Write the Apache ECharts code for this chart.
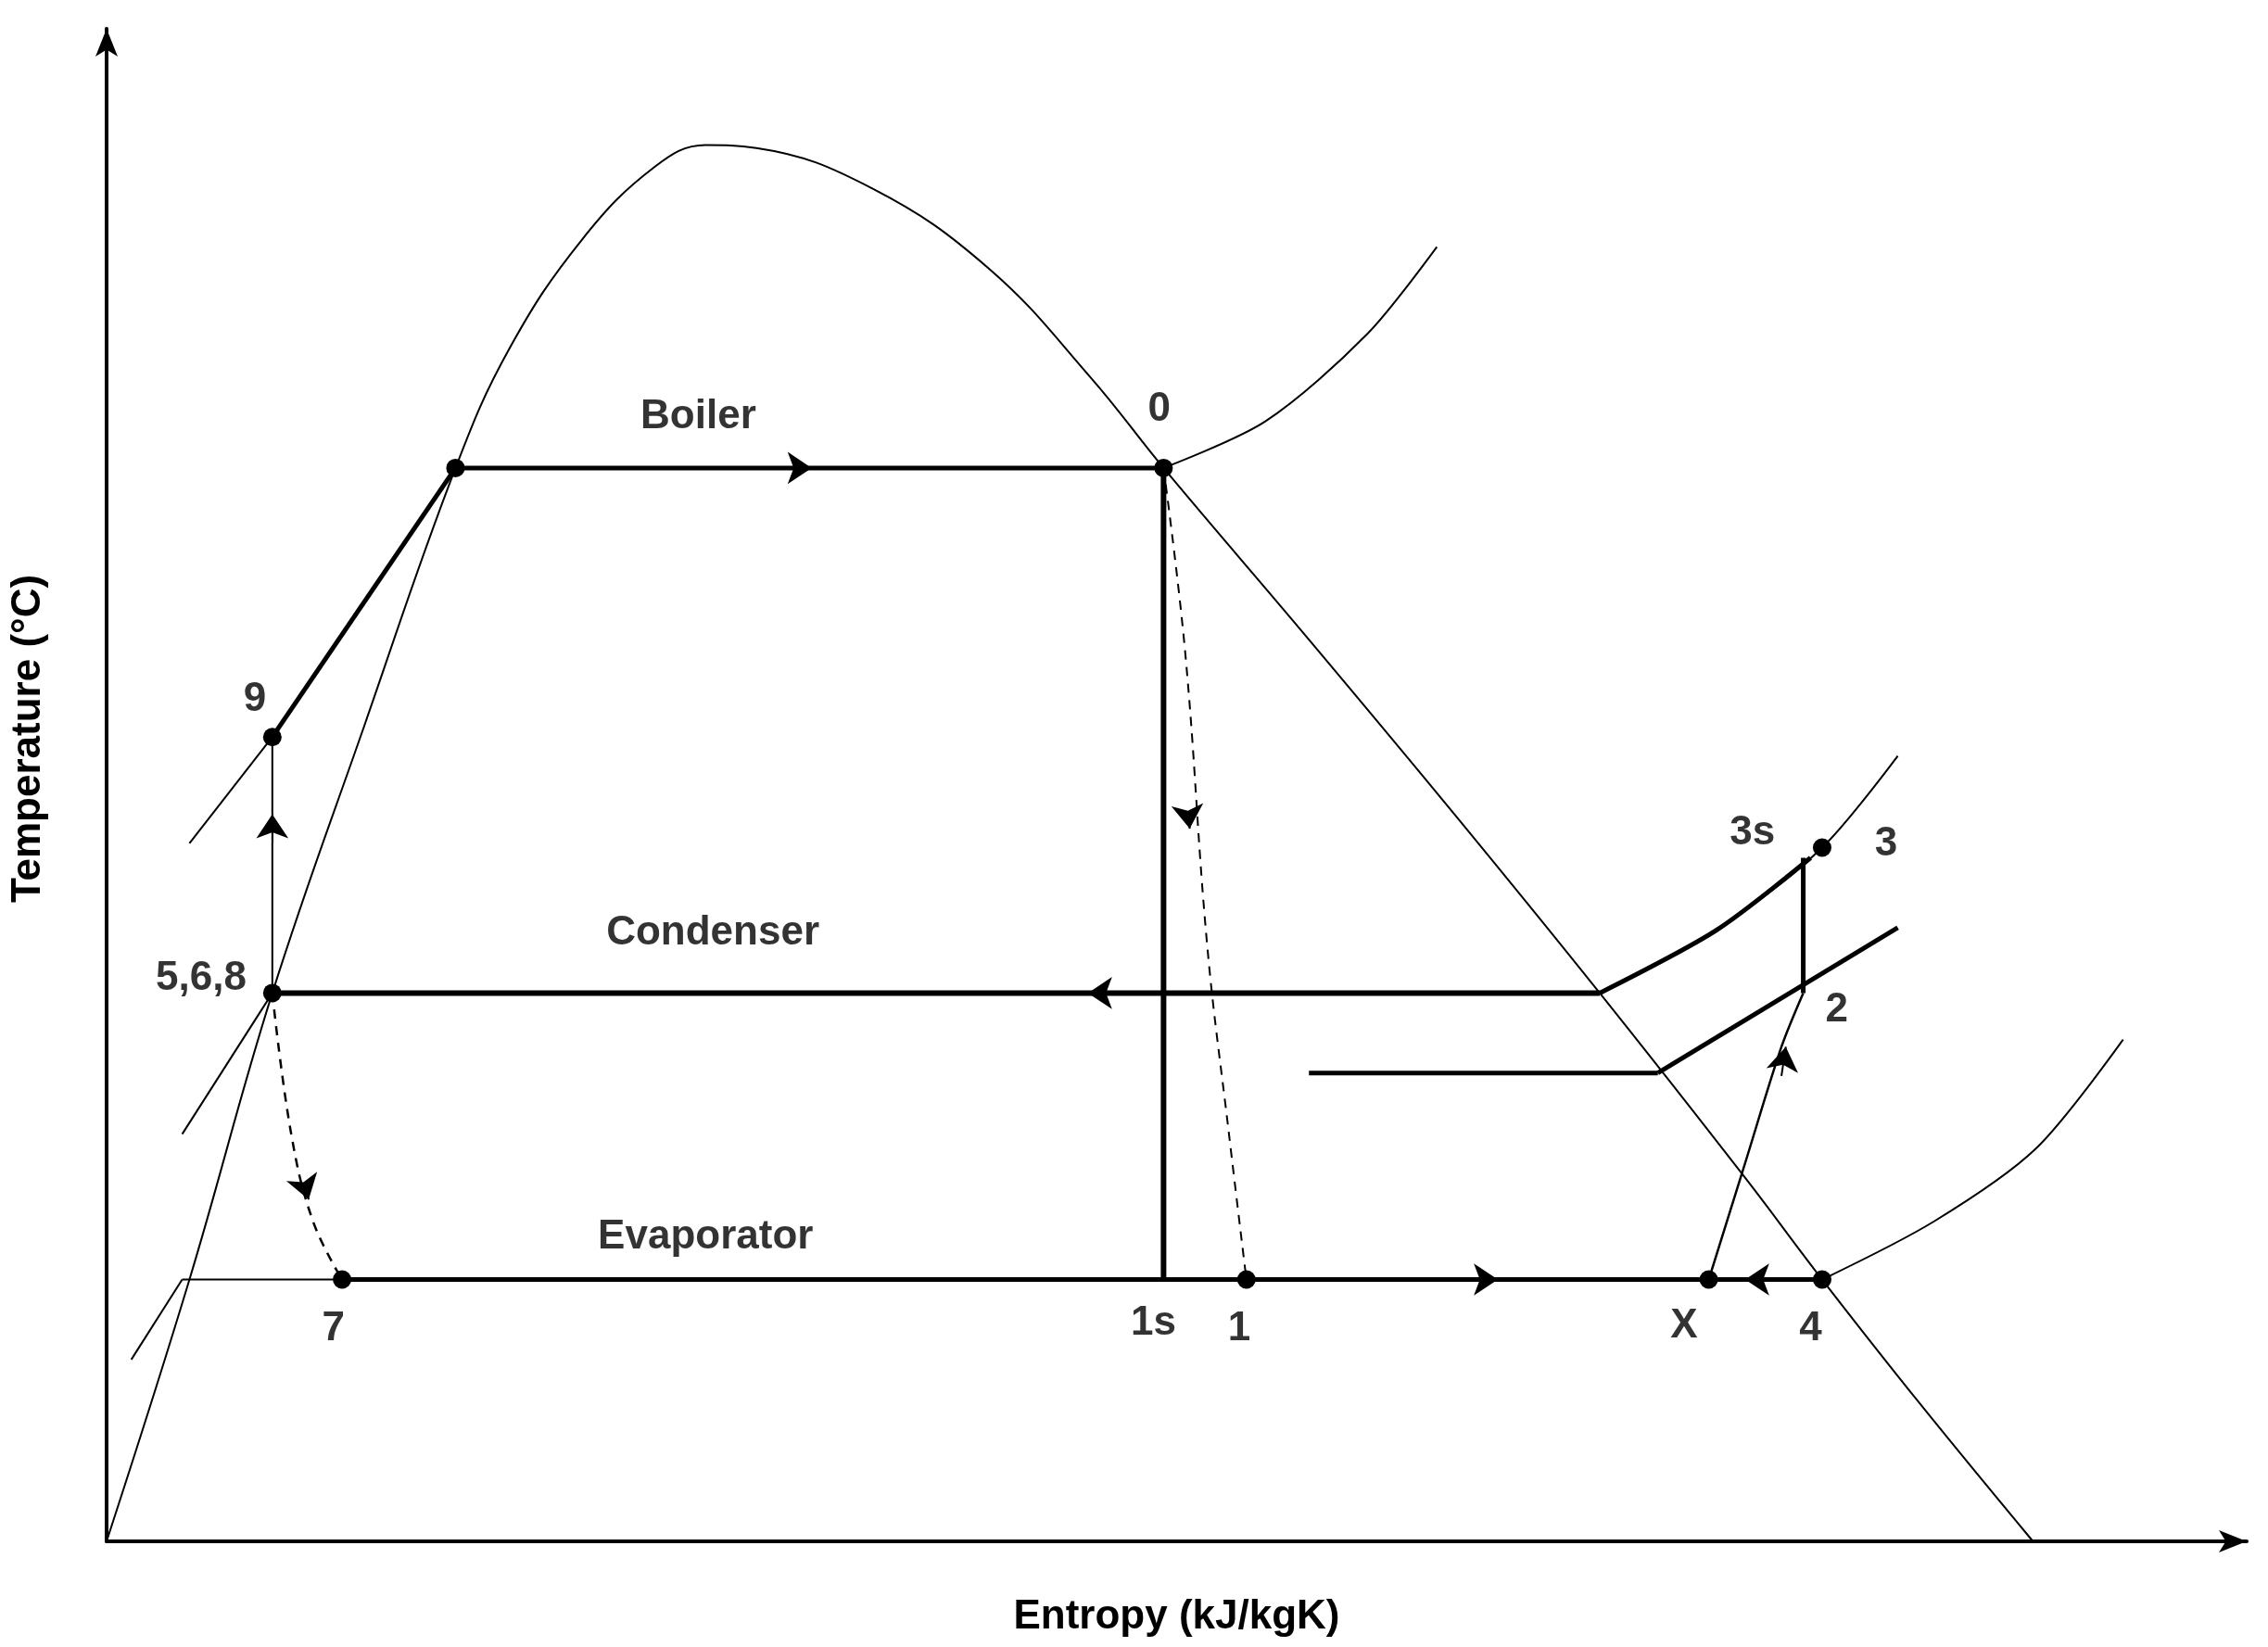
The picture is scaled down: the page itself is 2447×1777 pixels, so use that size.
<!DOCTYPE html>
<html><head><meta charset="utf-8">
<script src="https://cdn.jsdelivr.net/npm/echarts@6/dist/echarts.min.js"></script>
<style>html,body{margin:0;background:#fff}#c{width:2447px;height:1777px}</style>
</head><body><div id="c"></div>
<script>
// values, origin at the axes corner (arbitrary entropy / temperature units)
var dome = [[0,0],[57,180],[114,377],[177,560],[240,738],[277,820],[327,895],[377,945],[412,960],[447,958],[527,930],[607,875],[677,800],[727,738],[827,620],[927,500],[1027,377],[1127,250],[1180,180],[1247,95],[1325,0]];
var isoHigh = [[727,738],[797,770],[867,830],[915,890]];
var isoMid = [[1027,377],[1107,420],[1180,477],[1232,540]];
var isoLow = [[1180,180],[1257,220],[1327,270],[1387,345]];
var isoLeft1 = [[57,480],[114,553]];
var isoLeft2 = [[52,280],[114,377]];
var isoLeft3 = [[17,125],[52,180]];
var boiler = [[240,738],[727,738]];
var expIsen = [[727,738],[727,180]];
var expReal = [[727,738],[742,610],[757,410],[772,280],[784,180]];
var condenser = [[1027,377],[114,377]];
var comp3s = [[1027,377],[1107,420],[1172,470]];
var comp3v = [[1167,470],[1167,377]];
var iso2 = [[1067,322],[1232,422]];
var iso2flat = [[827,322],[1067,322]];
var xTo2 = [[1102,180],[1127,260],[1152,340],[1167,377]];
var evapThin = [[52,180],[162,180]];
var evap = [[162,180],[1180,180]];
var pump = [[114,377],[114,553]];
var throttle = [[114,377],[127,280],[142,220],[162,180]];
var pumpLine = [[114,553],[240,738]];
var states = [[240,738],[727,738],[114,553],[114,377],[162,180],[784,180],[1102,180],[1180,180],[1180,477]];
// arrowheads: [from, to]
var arrows = [[[465,738],[485,738]],[[744,500],[745,490]],[[695,377],[675,377]],[[1152,320],[1155,340]],[[937,180],[957,180]],[[1147,180],[1127,180]],[[114,480],[114,500]],[[136,245],[139,235]]];
var labels = [['Boiler',407,773],['0',724,778],['9',102,579],['Condenser',417,418],['5,6,8',65,387],['3s',1132,487],['3',1224,479],['2',1190,365],['Evaporator',412,209],['7',156,146],['1s',720,150],['1',779,146],['X',1085,148],['4',1172,146]];

var chart = echarts.init(document.getElementById('c'));
function ln(d, w, dash, sm) {
  return {type:'line', data:d, symbol:'none', silent:true, smooth:sm || false,
    lineStyle:{color:'#000', width:w, type:dash ? [10,8] : 'solid'}};
}
var series = [
  ln(dome,2,false,0.4), ln(isoHigh,2,false,0.3), ln(isoMid,2,false,0.3), ln(isoLow,2,false,0.3), ln(isoLeft1,2), ln(isoLeft2,2), ln(isoLeft3,2),
  ln(boiler,5), ln(expIsen,6), ln(expReal,2,true,0.4), ln(condenser,6), ln(comp3s,5,false,0.3), ln(comp3v,5),
  ln(iso2,5), ln(iso2flat,5), ln(xTo2,2.5,false,0.3), ln(evapThin,2), ln(evap,5), ln(pump,2), ln(throttle,2.5,true,0.4), ln(pumpLine,5),
  {type:'lines', coordinateSystem:'cartesian2d', symbol:['none','arrow'], symbolSize:26, silent:true,
    lineStyle:{color:'#000', width:2, opacity:1}, data:arrows.map(function(a){return {coords:a};})},
  {type:'scatter', data:states, symbolSize:20, itemStyle:{color:'#000', opacity:1}, silent:true},
  {type:'scatter', data:labels.map(function(l){return {value:[l[1],l[2]], name:l[0]};}), symbolSize:0, silent:true,
    label:{show:true, formatter:'{b}', color:'#000', fontFamily:'Liberation Sans', fontWeight:'bold', fontSize:44}}
];
chart.setOption({
  animation:false,
  grid:{left:115, right:23, top:31, bottom:114},
  xAxis:{type:'value', min:0, max:1472, name:'Entropy (kJ/kgK)', nameLocation:'middle', nameGap:60,
    nameTextStyle:{color:'#000', fontFamily:'Liberation Sans', fontWeight:'bold', fontSize:44},
    axisLine:{lineStyle:{color:'#000', width:4}, symbol:['none','arrow'], symbolSize:[18,30]},
    axisTick:{show:false}, axisLabel:{show:false}, splitLine:{show:false}},
  yAxis:{type:'value', min:0, max:1040, name:'Temperature (°C)', nameLocation:'middle', nameGap:62,
    nameTextStyle:{color:'#000', fontFamily:'Liberation Sans', fontWeight:'bold', fontSize:44, padding:[0,0,0,100]},
    axisLine:{lineStyle:{color:'#000', width:4}, symbol:['none','arrow'], symbolSize:[18,30]},
    axisTick:{show:false}, axisLabel:{show:false}, splitLine:{show:false}},
  series:series
});
</script></body></html>
